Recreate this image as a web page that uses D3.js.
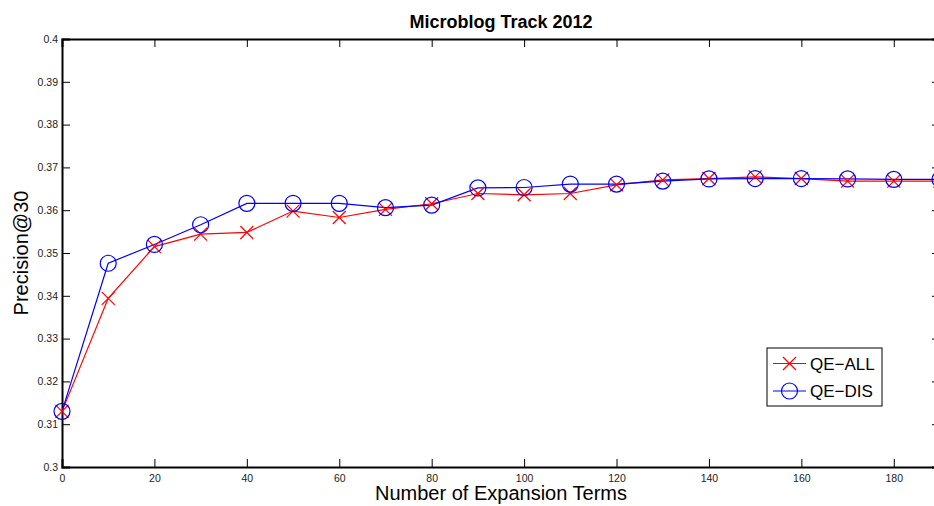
<!DOCTYPE html>
<html>
<head>
<meta charset="utf-8">
<script src="https://cdn.jsdelivr.net/npm/d3@7"></script>
<style>
  html, body { margin: 0; padding: 0; background: #fff; }
  svg { display: block; font-family: "Liberation Sans", Arial, sans-serif; }
</style>
</head>
<body>
<svg id="chart" width="934" height="506"></svg>
<script>
// expansion term counts (x)
const terms = [0, 10, 20, 30, 40, 50, 60, 70, 80, 90, 100, 110, 120, 130, 140, 150, 160, 170, 180, 190];

// Precision@30 per method
const qeAll = [0.3130, 0.3394, 0.3515, 0.3544, 0.3548, 0.3598, 0.3583, 0.3602, 0.3615, 0.3639,
               0.3636, 0.3639, 0.3659, 0.3671, 0.3674, 0.3678, 0.3674, 0.3668, 0.3668, 0.3668];
const qeDis = [0.3130, 0.3476, 0.3520, 0.3566, 0.3616, 0.3616, 0.3616, 0.3606, 0.3612, 0.3652,
               0.3653, 0.3661, 0.3661, 0.3668, 0.3673, 0.3674, 0.3674, 0.3673, 0.3672, 0.3672];

const xTicks = [0, 20, 40, 60, 80, 100, 120, 140, 160, 180];
const yTicks = [0.3, 0.31, 0.32, 0.33, 0.34, 0.35, 0.36, 0.37, 0.38, 0.39, 0.4];

const seriesNames = ["QE-ALL", "QE-DIS"];

const svg = d3.select("#chart");
const width = +svg.attr("width");
const height = +svg.attr("height");

// plot box: right edge sits just past the picture, as in the original crop
const margin = { top: 39, right: -6, bottom: 39, left: 62 };
const innerWidth = width - margin.left - margin.right;
const innerHeight = height - margin.top - margin.bottom;

const x = d3.scaleLinear().domain([0, 190]).range([0, innerWidth]);
const y = d3.scaleLinear().domain([0.3, 0.4]).range([innerHeight, 0]);

const g = svg.append("g")
    .attr("transform", `translate(${margin.left},${margin.top})`);

const tickLen = 8;

// bottom axis (ticks inward)
const xAxis = g.append("g")
    .attr("transform", `translate(0,${innerHeight})`)
    .call(d3.axisBottom(x).tickValues(xTicks).tickSize(-tickLen).tickPadding(8).tickFormat(d3.format("d")));

// top axis, ticks only
const xAxisTop = g.append("g")
    .call(d3.axisTop(x).tickValues(xTicks).tickSize(-tickLen).tickFormat(""));

// left axis
const yAxis = g.append("g")
    .call(d3.axisLeft(y).tickValues(yTicks).tickSize(-tickLen).tickPadding(4)
        .tickFormat(d => d === 0.3 ? "0.3" : d === 0.4 ? "0.4" : d3.format(".2f")(d)));

// right axis, ticks only
const yAxisRight = g.append("g")
    .attr("transform", `translate(${innerWidth},0)`)
    .call(d3.axisRight(y).tickValues(yTicks).tickSize(-tickLen).tickFormat(""));

[xAxisTop, yAxisRight].forEach(a => a.selectAll(".tick text").remove());

[xAxis, xAxisTop, yAxis, yAxisRight].forEach(a => {
    a.select(".domain").attr("stroke", "#000").attr("stroke-width", 2);
    a.selectAll(".tick line").attr("stroke", "#000").attr("stroke-width", 1);
    a.selectAll(".tick text")
        .attr("fill", "#222")
        .attr("font-size", 10.5)
        .attr("font-family", "'Liberation Sans', Arial, sans-serif");
});

// lines
const line = d3.line()
    .x((d, i) => x(terms[i]))
    .y(d => y(d));

g.append("path")
    .datum(qeAll)
    .attr("fill", "none")
    .attr("stroke", "#ff0000")
    .attr("stroke-width", 1.2)
    .attr("d", line);

g.append("path")
    .datum(qeDis)
    .attr("fill", "none")
    .attr("stroke", "#0000ff")
    .attr("stroke-width", 1.2)
    .attr("d", line);

const crossSize = 6.5;
const circleR = 8;

function drawCross(sel, cx, cy) {
    sel.append("path")
        .attr("d", `M${cx - crossSize},${cy - crossSize}L${cx + crossSize},${cy + crossSize}M${cx - crossSize},${cy + crossSize}L${cx + crossSize},${cy - crossSize}`)
        .attr("stroke", "#ff0000")
        .attr("stroke-width", 1.2)
        .attr("fill", "none");
}

const crosses = g.append("g");
qeAll.forEach((v, i) => drawCross(crosses, x(terms[i]), y(v)));

g.append("g").selectAll("circle")
    .data(qeDis)
    .join("circle")
    .attr("cx", (d, i) => x(terms[i]))
    .attr("cy", d => y(d))
    .attr("r", circleR)
    .attr("fill", "none")
    .attr("stroke", "#0000ff")
    .attr("stroke-width", 1.2);

// legend
const legend = svg.append("g").attr("transform", "translate(767,348)");
legend.append("rect")
    .attr("width", 115)
    .attr("height", 58)
    .attr("fill", "#fff")
    .attr("stroke", "#000")
    .attr("stroke-width", 1);

seriesNames.forEach((name, i) => {
    const ly = 15.5 + i * 27.5;
    const color = i === 0 ? "#ff0000" : "#0000ff";
    legend.append("line")
        .attr("x1", 6).attr("x2", 39)
        .attr("y1", ly).attr("y2", ly)
        .attr("stroke", color)
        .attr("stroke-width", 1.2);
    if (i === 0) {
        drawCross(legend, 22.5, ly);
    } else {
        legend.append("circle")
            .attr("cx", 22.5).attr("cy", ly).attr("r", circleR)
            .attr("fill", "none").attr("stroke", color).attr("stroke-width", 1.2);
    }
    legend.append("text")
        .attr("x", 43)
        .attr("y", ly + 6)
        .attr("font-size", 17)
        .attr("fill", "#000")
        .text(name.replace("-", "\u2212"));
});

// title
svg.append("text")
    .attr("x", margin.left + (940 - margin.left) / 2)
    .attr("y", 28)
    .attr("text-anchor", "middle")
    .attr("font-size", 18)
    .attr("font-weight", "bold")
    .text("Microblog Track 2012");

// x label
svg.append("text")
    .attr("x", margin.left + (940 - margin.left) / 2)
    .attr("y", 500)
    .attr("text-anchor", "middle")
    .attr("font-size", 20)
    .text("Number of Expansion Terms");

// y label
svg.append("text")
    .attr("transform", `translate(28,${margin.top + innerHeight / 2}) rotate(-90)`)
    .attr("text-anchor", "middle")
    .attr("font-size", 20)
    .text("Precision@30");
</script>
</body>
</html>
